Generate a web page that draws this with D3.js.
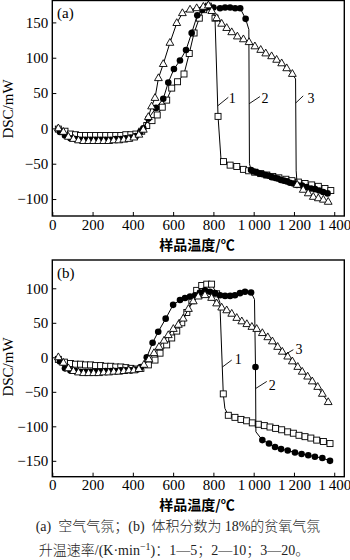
<!DOCTYPE html>
<html><head><meta charset="utf-8">
<script src="https://cdn.jsdelivr.net/npm/d3@7"></script>
<style>body{margin:0;background:#fff;} svg{display:block;}
.sf{font-family:"Liberation Serif","Times New Roman","DejaVu Serif",serif;}
.cj{font-family:"Noto Sans CJK SC","Noto Sans CJK JP",sans-serif;}
</style>
</head><body>
<script>
// ---- tick labels ----
const xTicks = [0,200,400,600,800,1000,1200,1400];
const xTickLabels = ["0","200","400","600","800","1\u2009000","1\u2009200","1\u2009400"];
const yTicksA = [-100,-50,0,50,100,150];
const yTickLabelsA = ["\u2212100","\u221250","0","50","100","150"];
const yTicksB = [-150,-100,-50,0,50,100];
const yTickLabelsB = ["\u2212150","\u2212100","\u221250","0","50","100"];

// ---- panel (a): air ----
const a1T = [30,63,90,115,140,165,190,215,240,265,290,315,340,365,390,415,444,469,495,521,546,568,593,622,654,680,704,730,752,775,808,823,838,850,883,916,949,975,1005,1035,1065,1095,1125,1160,1190,1222,1255,1288,1321,1354,1383];
const a1V = [-1,-4,-8,-9,-10,-10,-10,-10,-10,-10,-10,-10,-10,-9,-9,-8,-4,4,11,19,30,40,57,66,77,106,135,156,168,173,156,17,-45,-47,-52,-54,-58,-60,-62,-64,-66,-68,-70,-72,-74,-76,-78,-80,-82,-85,-88];
const a1Bend = [838];

const a2T = [38,63,90,115,140,165,190,215,240,265,290,315,340,365,390,415,437,452,477,515,551,576,604,634,664,692,720,745,767,800,833,858,883,908,933,960,976,979,987,1000,1015,1030,1045,1060,1075,1090,1105,1120,1135,1150,1165,1180,1197,1215,1240,1262,1285,1305,1325,1345,1367];
const a2V = [-5,-10,-14,-15,-16,-16,-16,-16,-16,-16,-16,-15,-15,-14,-13,-11,-5,0,14,29,42,65,84,96,111,135,160,168,171,171,170,171,171,170,170,155,140,-50,-59,-61,-62,-64,-65,-66,-67,-69,-70,-71,-73,-74,-75,-77,-78,-80,-81,-83,-85,-86,-88,-90,-92];
const a2Bend = [976,979];

const a3T = [30,55,80,105,130,155,180,205,230,255,280,305,330,355,380,405,430,452,477,493,510,527,551,584,618,646,684,717,750,775,792,816,841,866,891,919,949,977,1006,1035,1060,1089,1114,1139,1164,1192,1208,1211,1216,1246,1271,1296,1321,1346,1370];
const a3V = [0,-5,-12,-15,-17,-18,-18,-18,-18,-18,-18,-17,-17,-16,-15,-13,-9,-2,16,31,43,71,91,121,149,163,168,170,172,174,166,156,148,142,136,130,126,122,116,111,106,102,97,92,85,77,70,-60,-80,-87,-92,-97,-99,-101,-104];
const a3Bend = [1208,1211];

// ---- panel (b): 18% oxygen-lean ----
const b1T = [30,60,90,115,140,165,190,215,240,265,290,315,340,365,390,415,440,477,510,535,568,593,618,643,668,693,717,742,767,791,816,832,849,857,874,907,937,965,993,1023,1053,1081,1109,1139,1169,1197,1225,1255,1284,1313,1346,1379];
const b1V = [-3,-7,-9,-10,-10,-11,-11,-12,-12,-13,-13,-14,-14,-15,-16,-17,-16,-11,-4,6,18,28,38,50,65,82,97,104,106,106,92,80,-53,-74,-84,-87,-90,-92,-95,-97,-99,-101,-103,-105,-108,-110,-113,-115,-117,-120,-122,-125];
const b1Bend = [832,857];

const b2T = [38,63,90,115,140,165,190,215,240,265,290,315,340,365,390,415,440,469,498,526,563,600,634,659,684,709,733,758,783,808,833,858,883,907,932,957,987,1004,1009,1011,1043,1076,1106,1136,1169,1205,1238,1271,1304,1341,1379];
const b2V = [-6,-16,-19,-20,-21,-21,-21,-21,-21,-20,-20,-20,-19,-19,-19,-18,-14,0,21,37,56,76,83,86,88,90,94,97,95,93,90,89,89,90,93,95,94,84,-14,-108,-120,-125,-130,-133,-135,-138,-140,-142,-144,-146,-150];
const b2Bend = [1004,1011];

const b3T = [30,55,80,105,130,155,180,205,230,255,280,305,330,355,380,405,430,455,480,505,530,555,576,601,626,650,676,700,725,758,791,816,841,866,891,916,941,966,991,1015,1043,1070,1093,1119,1142,1169,1192,1219,1241,1268,1291,1318,1341,1370];
const b3V = [0,-8,-16,-20,-22,-23,-23,-23,-23,-22,-22,-21,-21,-20,-19,-19,-17,-11,-3,6,15,24,32,41,47,56,70,81,88,90,86,78,72,68,63,57,52,48,44,41,35,29,23,15,8,1,-6,-14,-21,-28,-35,-43,-53,-65];
const b3Bend = [];

// curve labels (leader start, leader end, label anchor) in data units
const leadersA = [
  {t:"1", p:[[822,32],[874,44]], l:[893,43]},
  {t:"2", p:[[978,35],[1031,45]], l:[1056,43]},
  {t:"3", p:[[1209,36],[1246,46]], l:[1285,43]}
];
const leadersB = [
  {t:"1", p:[[845,-14],[891,-4]], l:[924,-3]},
  {t:"2", p:[[1011,-45],[1065,-35]], l:[1092,-40]},
  {t:"3", p:[[1155,4],[1197,11]], l:[1225,12]}
];

const W=350, H=560;
const svg = d3.select("body").append("svg").attr("width",W).attr("height",H).attr("class","sf");

const x = d3.scaleLinear().domain([0,1450]).range([52.3,344.3]);

function drawPanel(cfg){
  const y = d3.scaleLinear().domain(cfg.yDomain).range(cfg.yRange);
  const g = svg.append("g");
  const line = d3.line().x(d=>x(d.t)).y(d=>y(d.v));
  cfg.series.forEach(s=>{
    const pts = s.T.map((t,i)=>({t:t, v:s.V[i]}));
    const sg = g.append("g");
    sg.append("path").datum(pts).attr("fill","none").attr("stroke","#000")
      .attr("stroke-width",1).attr("d",line);
    const mk = pts.filter(d=>!s.bend.includes(d.t));
    if(s.shape==="square"){
      sg.selectAll("rect").data(mk).join("rect")
        .attr("x",d=>x(d.t)-3).attr("y",d=>y(d.v)-3).attr("width",6).attr("height",6)
        .attr("fill","#fff").attr("stroke","#000").attr("stroke-width",0.9);
    } else if(s.shape==="circle"){
      sg.selectAll("circle").data(mk).join("circle")
        .attr("cx",d=>x(d.t)).attr("cy",d=>y(d.v)).attr("r",3.3).attr("fill","#000");
    } else {
      sg.selectAll("path.m").data(mk).join("path").attr("class","m")
        .attr("d",d=>{const cx=x(d.t), cy=y(d.v);
          return `M${cx},${cy-4.4}L${cx+3.9},${cy+2.4}L${cx-3.9},${cy+2.4}Z`;})
        .attr("fill","#fff").attr("stroke","#000").attr("stroke-width",0.9);
    }
  });
  // leaders + labels
  cfg.leaders.forEach(L=>{
    g.append("line").attr("x1",x(L.p[0][0])).attr("y1",y(L.p[0][1]))
      .attr("x2",x(L.p[1][0])).attr("y2",y(L.p[1][1]))
      .attr("stroke","#000").attr("stroke-width",0.9);
    g.append("text").attr("class","sf").attr("x",x(L.l[0])).attr("y",y(L.l[1])).attr("dy","0.35em")
      .attr("text-anchor","middle").style("font-size","14px").text(L.t);
  });
  // axes
  const xa = g.append("g").attr("transform",`translate(0,${cfg.yRange[0]})`)
    .call(d3.axisBottom(x).tickValues(xTicks).tickFormat((d,i)=>xTickLabels[i])
      .tickSizeInner(-4).tickSizeOuter(0).tickPadding(3));
  xa.attr("font-family",null).attr("font-size",null);
  xa.select(".domain").remove();
  xa.selectAll("text").attr("class","sf").style("font-size","15px").attr("fill","#000");
  xa.selectAll("line").attr("stroke","#000");
  const ya = g.append("g").attr("transform",`translate(${x(0)},0)`)
    .call(d3.axisLeft(y).tickValues(cfg.yTicks).tickFormat((d,i)=>cfg.yLabels[i])
      .tickSizeInner(-4).tickSizeOuter(0).tickPadding(4));
  ya.attr("font-family",null).attr("font-size",null);
  ya.select(".domain").remove();
  ya.selectAll("text").attr("class","sf").style("font-size","15px").attr("fill","#000");
  ya.selectAll("line").attr("stroke","#000");
  // frame
  g.append("rect").attr("x",x(0)).attr("y",cfg.yRange[1])
    .attr("width",x.range()[1]-x(0)).attr("height",cfg.yRange[0]-cfg.yRange[1])
    .attr("fill","none").attr("stroke","#000").attr("stroke-width",1.4);
  // panel tag
  g.append("text").attr("class","sf").attr("x",57).attr("y",cfg.yRange[1]+17.5)
    .style("font-size","15px").text(cfg.tag);
  // y title
  g.append("text").attr("class","sf").attr("transform",`translate(12.5,${cfg.yTitleY}) rotate(-90)`)
    .attr("text-anchor","middle").style("font-size","15px").text("DSC/mW");
  // x title
  g.append("text").attr("class","cj").attr("x",197).attr("y",cfg.xTitleY).attr("dy","0.35em")
    .attr("text-anchor","middle").style("font-size","14px").attr("font-weight","bold")
    .text("样品温度/℃");
}

drawPanel({
  tag:"(a)", yDomain:[-124,181], yRange:[216,0.5], yTicks:yTicksA, yLabels:yTickLabelsA,
  yTitleY:109, xTitleY:245,
  series:[
    {T:a1T,V:a1V,bend:a1Bend,shape:"square"},
    {T:a2T,V:a2V,bend:a2Bend,shape:"circle"},
    {T:a3T,V:a3V,bend:a3Bend,shape:"triangle"}
  ],
  leaders:leadersA
});
drawPanel({
  tag:"(b)", yDomain:[-173,141], yRange:[476.7,260], yTicks:yTicksB, yLabels:yTickLabelsB,
  yTitleY:367, xTitleY:505,
  series:[
    {T:b1T,V:b1V,bend:b1Bend,shape:"square"},
    {T:b2T,V:b2V,bend:b2Bend,shape:"circle"},
    {T:b3T,V:b3V,bend:b3Bend,shape:"triangle"}
  ],
  leaders:leadersB
});

// caption
const cap1 = svg.append("text").attr("x",178).attr("y",531).attr("text-anchor","middle")
  .style("font-size","14px").attr("fill","#222").style("white-space","pre");
cap1.append("tspan").attr("class","sf").text("(a)  ");
cap1.append("tspan").attr("class","cj").attr("font-weight",300).text("空气气氛；");
cap1.append("tspan").attr("class","sf").text("(b)  ");
cap1.append("tspan").attr("class","cj").attr("font-weight",300).text("体积分数为 ");
cap1.append("tspan").attr("class","sf").text("18%");
cap1.append("tspan").attr("class","cj").attr("font-weight",300).text("的贫氧气氛");

const cap2 = svg.append("text").attr("x",174).attr("y",555).attr("text-anchor","middle")
  .style("font-size","14px").attr("fill","#222");
cap2.append("tspan").attr("class","cj").attr("font-weight",300).text("升温速率");
cap2.append("tspan").attr("class","sf").text("/(K·min");
cap2.append("tspan").attr("class","sf").style("font-size","10px").attr("dy",-5).text("\u22121");
cap2.append("tspan").attr("class","sf").attr("dy",5).text(")");
cap2.append("tspan").attr("class","cj").attr("font-weight",300).text("：");
cap2.append("tspan").attr("class","sf").text("1—5");
cap2.append("tspan").attr("class","cj").attr("font-weight",300).text("；");
cap2.append("tspan").attr("class","sf").text("2—10");
cap2.append("tspan").attr("class","cj").attr("font-weight",300).text("；");
cap2.append("tspan").attr("class","sf").text("3—20");
cap2.append("tspan").attr("class","cj").attr("font-weight",300).text("。");
</script>
</body></html>
